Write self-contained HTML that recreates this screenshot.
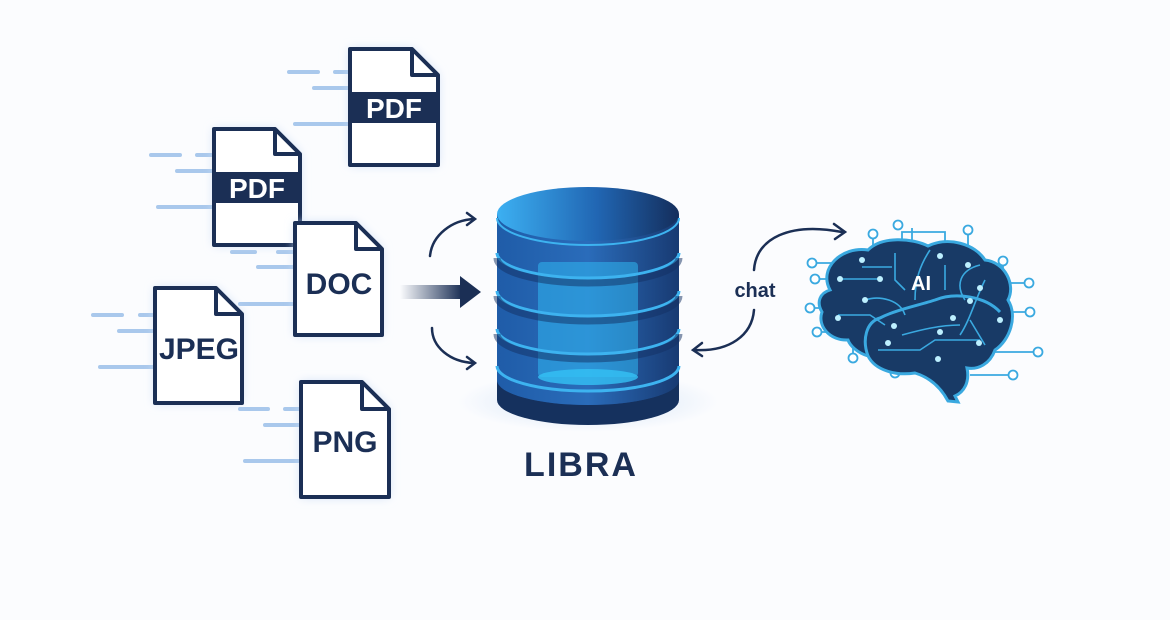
<!DOCTYPE html>
<html><head><meta charset="utf-8"><style>
html,body{margin:0;padding:0;background:#fbfcfe;}
svg{display:block}
text{font-family:"Liberation Sans",sans-serif;font-weight:bold}
</style></head><body>
<svg width="1170" height="620" viewBox="0 0 1170 620" xmlns="http://www.w3.org/2000/svg">
<defs>
<linearGradient id="top" x1="0" x2="1"><stop offset="0" stop-color="#3cb0f2"/><stop offset="0.55" stop-color="#2166b3"/><stop offset="1" stop-color="#142e5c"/></linearGradient>
<linearGradient id="side" x1="0" x2="1"><stop offset="0" stop-color="#1f5ca8"/><stop offset="0.5" stop-color="#2a6cba"/><stop offset="1" stop-color="#183a72"/></linearGradient>
<linearGradient id="arr" x1="0" x2="1"><stop offset="0" stop-color="#1b2f55" stop-opacity="0"/><stop offset="1" stop-color="#1b2f55"/></linearGradient>
<radialGradient id="glow"><stop offset="0" stop-color="#c8dcf5" stop-opacity="0.8"/><stop offset="1" stop-color="#c8dcf5" stop-opacity="0"/></radialGradient>
<filter id="sh" x="-30%" y="-30%" width="160%" height="160%"><feGaussianBlur stdDeviation="5"/></filter>
</defs>
<rect width="1170" height="620" fill="#fbfcfe"/>
<g stroke="#a9c8ec" stroke-width="4" stroke-linecap="round">
<line x1="289" y1="72" x2="318" y2="72"/><line x1="335" y1="72" x2="348" y2="72"/><line x1="314" y1="88" x2="348" y2="88"/><line x1="295" y1="124" x2="348" y2="124"/>
<line x1="151" y1="155" x2="180" y2="155"/><line x1="197" y1="155" x2="212" y2="155"/><line x1="177" y1="171" x2="212" y2="171"/><line x1="158" y1="207" x2="212" y2="207"/>
<line x1="232" y1="252" x2="255" y2="252"/><line x1="278" y1="252" x2="293" y2="252"/><line x1="258" y1="267" x2="293" y2="267"/><line x1="240" y1="304" x2="293" y2="304"/>
<line x1="93" y1="315" x2="122" y2="315"/><line x1="140" y1="315" x2="153" y2="315"/><line x1="119" y1="331" x2="153" y2="331"/><line x1="100" y1="367" x2="153" y2="367"/>
<line x1="240" y1="409" x2="268" y2="409"/><line x1="285" y1="409" x2="299" y2="409"/><line x1="265" y1="425" x2="299" y2="425"/><line x1="245" y1="461" x2="299" y2="461"/>
</g>
<g stroke="#1b2f55" stroke-width="4" stroke-linejoin="round">
<g><path d="M350,49 H412 L438,75 V165 H350 Z" fill="#c9dbf4" filter="url(#sh)" stroke="none"/><path d="M350,49 H412 L438,75 V165 H350 Z" fill="#fff"/><path d="M412,49 V75 H438" fill="none"/><rect x="350" y="92" width="88" height="31" fill="#1b2f55" stroke="none"/><text x="394" y="118" font-size="28" fill="#fff" stroke="none" text-anchor="middle">PDF</text></g>
<g><path d="M214,129 H275 L300,154 V245 H214 Z" fill="#c9dbf4" filter="url(#sh)" stroke="none"/><path d="M214,129 H275 L300,154 V245 H214 Z" fill="#fff"/><path d="M275,129 V154 H300" fill="none"/><rect x="214" y="172" width="86" height="31" fill="#1b2f55" stroke="none"/><text x="257" y="198" font-size="28" fill="#fff" stroke="none" text-anchor="middle">PDF</text></g>
<g><path d="M295,223 H356 L382,249 V335 H295 Z" fill="#c9dbf4" filter="url(#sh)" stroke="none"/><path d="M295,223 H356 L382,249 V335 H295 Z" fill="#fff"/><path d="M356,223 V249 H382" fill="none"/><text x="339" y="294" font-size="30" fill="#1b2f55" stroke="none" text-anchor="middle">DOC</text></g>
<g><path d="M155,288 H216 L242,314 V403 H155 Z" fill="#c9dbf4" filter="url(#sh)" stroke="none"/><path d="M155,288 H216 L242,314 V403 H155 Z" fill="#fff"/><path d="M216,288 V314 H242" fill="none"/><text x="199" y="359" font-size="30" fill="#1b2f55" stroke="none" text-anchor="middle">JPEG</text></g>
<g><path d="M301,382 H362 L389,409 V497 H301 Z" fill="#c9dbf4" filter="url(#sh)" stroke="none"/><path d="M301,382 H362 L389,409 V497 H301 Z" fill="#fff"/><path d="M362,382 V409 H389" fill="none"/><text x="345" y="452" font-size="30" fill="#1b2f55" stroke="none" text-anchor="middle">PNG</text></g>
</g>
<rect x="400" y="285" width="62" height="14" fill="url(#arr)"/>
<path d="M460,276 L481,292 L460,308 Z" fill="#1b2f55"/>
<g fill="none" stroke="#1b2f55" stroke-width="2.5" stroke-linecap="round">
<path d="M430,256 C432,235 452,220 474,219"/><path d="M467,213 L475,219 L467,225"/>
<path d="M432,328 C432,347 450,362 474,363"/><path d="M467,357 L475,363 L467,369"/>
<path d="M694,350 C730,352 752,335 754,310"/><path d="M702,343 L693,350 L702,356"/>
<path d="M754,270 C756,238 790,222 842,232"/><path d="M834,224 L845,232 L835,239"/>
</g>
<text x="755" y="297" font-size="20" fill="#1b2f55" text-anchor="middle">chat</text>
<ellipse cx="588" cy="402" rx="130" ry="30" fill="url(#glow)"/>
<path d="M497,380 V400 A91,25 0 0 0 679,400 V380 Z" fill="#15315e"/>
<ellipse cx="588" cy="380" rx="91" ry="25" fill="#1c4a8c"/>
<path d="M497,214 V380 A91,25 0 0 0 679,380 V214 Z" fill="url(#side)"/>
<rect x="538" y="262" width="100" height="115" rx="4" fill="#2fb7f0" opacity="0.55"/>
<ellipse cx="588" cy="377" rx="50" ry="8" fill="#35c2f5" opacity="0.8"/>
<g fill="none" stroke="#3db3f0" stroke-width="3">
<path d="M497,253 A91,25 0 0 0 679,253"/><path d="M497,291 A91,25 0 0 0 679,291"/><path d="M497,329 A91,25 0 0 0 679,329"/><path d="M497,366 A91,25 0 0 0 679,366"/>
</g>
<g fill="none" stroke="#143063" stroke-width="7" opacity="0.5">
<path d="M497,258 A91,25 0 0 0 679,258"/><path d="M497,296 A91,25 0 0 0 679,296"/><path d="M497,334 A91,25 0 0 0 679,334"/>
</g>
<ellipse cx="588" cy="214" rx="91" ry="27" fill="url(#top)"/>
<path d="M497,218 A91,27 0 0 0 679,218" fill="none" stroke="#3db3f0" stroke-width="2"/>
<text x="581" y="476" font-size="34" fill="#1b2f55" text-anchor="middle" letter-spacing="2">LIBRA</text>
<g stroke="#3aa9e0" stroke-width="1.8" fill="none">
<line x1="912" y1="228" x2="912" y2="260"/><line x1="873" y1="236" x2="873" y2="255"/><line x1="968" y1="232" x2="968" y2="260"/>
<path d="M902,243 V232 H945 V250"/>
<line x1="815" y1="263" x2="865" y2="263"/><line x1="818" y1="279" x2="840" y2="279"/><line x1="811" y1="308" x2="828" y2="308"/><line x1="817" y1="332" x2="840" y2="332"/>
<line x1="853" y1="335" x2="853" y2="358"/><line x1="895" y1="360" x2="895" y2="373"/>
<line x1="1003" y1="265" x2="1003" y2="285"/><line x1="990" y1="283" x2="1029" y2="283"/><line x1="1005" y1="312" x2="1030" y2="312"/><line x1="985" y1="352" x2="1038" y2="352"/><line x1="970" y1="375" x2="1013" y2="375"/>
</g>
<g fill="#fff" stroke="#3aa9e0" stroke-width="1.8">
<circle cx="898" cy="225" r="4.5"/><circle cx="873" cy="234" r="4.5"/><circle cx="968" cy="230" r="4.5"/><circle cx="812" cy="263" r="4.5"/><circle cx="815" cy="279" r="4.5"/><circle cx="810" cy="308" r="4.5"/><circle cx="817" cy="332" r="4.5"/><circle cx="853" cy="358" r="4.5"/><circle cx="895" cy="373" r="4.5"/><circle cx="1003" cy="261" r="4.5"/><circle cx="1029" cy="283" r="4.5"/><circle cx="1030" cy="312" r="4.5"/><circle cx="1038" cy="352" r="4.5"/><circle cx="1013" cy="375" r="4.5"/>
</g>
<path d="M830,290 C818,268 842,246 868,250 C882,236 912,238 928,246 C948,236 975,244 985,260 C1005,262 1016,285 1008,300 C1018,316 1010,340 995,350 C990,364 978,370 967,368 C970,382 964,392 955,396 L958,402 L948,401 C940,386 928,377 915,373 C895,376 875,370 868,356 C858,353 850,346 848,340 C830,341 817,326 822,312 C816,302 820,293 830,290 Z" fill="#183a66" stroke="#3aa9e0" stroke-width="3"/>
<path d="M868,356 C862,340 866,322 880,318 C895,310 920,305 935,300 C955,292 985,296 1000,312" fill="none" stroke="#3aa9e0" stroke-width="3"/>
<g stroke="#3aa9e0" stroke-width="1.6" fill="none">
<path d="M862,267 H892 M840,279 H880 M838,315 H870 L885,325 M865,300 C880,295 900,300 905,315 M895,253 V280 L905,290 M930,250 C920,265 915,280 915,300 M945,265 V290 M980,265 C960,270 955,285 965,300 M985,280 C975,300 970,320 960,335 M878,350 H920 L935,340 H980 M902,335 C920,330 940,325 960,325 M970,320 L985,345"/>
</g>
<g fill="#bdf0ff">
<circle cx="862" cy="260" r="3"/><circle cx="840" cy="279" r="3"/><circle cx="880" cy="279" r="3"/><circle cx="865" cy="300" r="3"/><circle cx="838" cy="318" r="3"/><circle cx="894" cy="326" r="3"/><circle cx="888" cy="343" r="3"/><circle cx="940" cy="256" r="3"/><circle cx="968" cy="265" r="3"/><circle cx="980" cy="288" r="3"/><circle cx="970" cy="301" r="3"/><circle cx="953" cy="318" r="3"/><circle cx="940" cy="332" r="3"/><circle cx="979" cy="343" r="3"/><circle cx="938" cy="359" r="3"/><circle cx="1000" cy="320" r="3"/>
</g>
<text x="921" y="290" font-size="20" fill="#fff" text-anchor="middle">AI</text>
</svg>
</body></html>
